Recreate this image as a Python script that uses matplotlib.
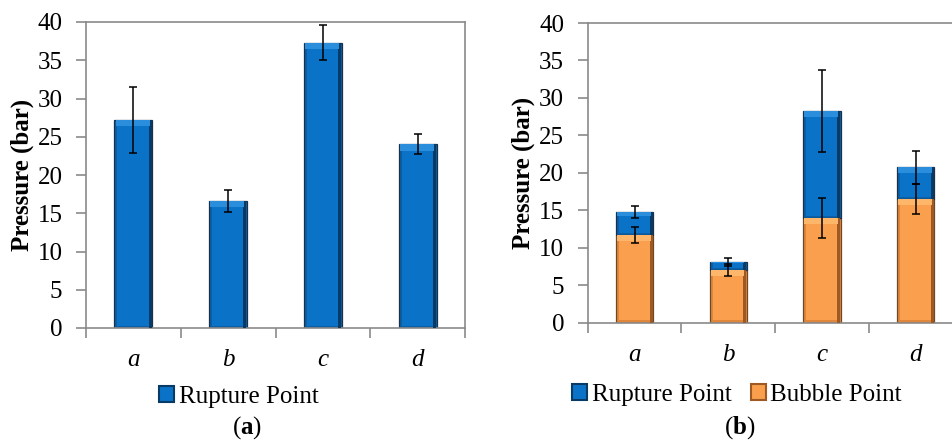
import matplotlib
matplotlib.use("Agg")
import matplotlib.pyplot as plt
from matplotlib.patches import Patch

plt.rcParams['font.family'] = ['Liberation Serif', 'DejaVu Serif']
plt.rcParams['mathtext.fontset'] = 'custom'
plt.rcParams['mathtext.rm'] = 'Liberation Serif'
plt.rcParams['mathtext.bf'] = 'Liberation Serif:bold'

categories = ['a', 'b', 'c', 'd']
# panel (a)
rupture_a = [27.2, 16.6, 37.3, 24.0]
rupture_a_err = [4.3, 1.5, 2.3, 1.3]
# panel (b)
bubble_b = [11.7, 7.0, 14.0, 16.5]
bubble_b_err = [1.1, 0.8, 2.7, 2.0]
rupture_b_total = [14.8, 8.15, 28.25, 20.75]
rupture_b_err = [0.8, 0.55, 5.5, 2.2]

yticks = [0, 5, 10, 15, 20, 25, 30, 35, 40]

BLUE = dict(main='#0A73C8', light='#2A8EDD', side='#0A5FA6', dark='#083A66', edge='#1E3048')
ORANGE = dict(main='#F99F4D', light='#FDB66A', side='#E0863A', dark='#9E5A22', edge='#6B4A2C')

W = 0.4
SPINE = '#8A8A8A'
FS = 18


def bevel_bars(ax, x, heights, bottoms, col):
    ax.bar(x, heights, W, bottom=bottoms, color=col['side'], edgecolor=col['edge'],
           linewidth=0.9, zorder=2)
    for xi, h, b in zip(x, heights, bottoms):
        cap = min(0.8, h * 0.2)
        # dark right edge
        ax.bar(xi + W * 0.44, h, W * 0.08, bottom=b, color=col['dark'], linewidth=0, zorder=3)
        # main body
        ax.bar(xi - W * 0.01, h - cap - 0.3, W * 0.82, bottom=b + 0.3, color=col['main'],
               linewidth=0, zorder=3)
        # light top bevel
        ax.bar(xi - W * 0.02, cap, W * 0.9, bottom=b + h - cap, color=col['light'],
               linewidth=0, zorder=3)


def style_axes(ax):
    ax.set_xlim(-0.5, 3.5)
    ax.set_ylim(0, 40)
    ax.set_yticks(yticks)
    ax.set_xticks(range(len(categories)))
    ax.set_xticklabels(categories, fontstyle='italic', fontsize=FS)
    ax.set_xticks([-0.5, 0.5, 1.5, 2.5, 3.5], minor=True)
    ax.tick_params(axis='x', which='major', length=0, pad=15)
    ax.tick_params(axis='x', which='minor', length=7, color=SPINE, width=1.2)
    ax.tick_params(axis='y', length=7, color=SPINE, width=1.2, labelsize=FS, pad=10)
    for s in ax.spines.values():
        s.set_color(SPINE)
        s.set_linewidth(1.2)
    ax.set_ylabel('Pressure (bar)', fontweight='bold', fontsize=FS)


fig = plt.figure(figsize=(9.52, 4.42), dpi=100, facecolor='white')

# ---- panel (a)
ax1 = fig.add_axes([86 / 952, 1 - 328 / 442, (465 - 86) / 952, (328 - 22) / 442])
x = list(range(len(categories)))
bevel_bars(ax1, x, rupture_a, [0] * 4, BLUE)
ax1.errorbar(x, rupture_a, yerr=rupture_a_err, fmt='none', ecolor='black',
             elinewidth=1.1, capsize=3, capthick=1.1, zorder=5)
style_axes(ax1)
ax1.yaxis.set_label_coords(-0.137, 0.5)

h_rup = Patch(facecolor=BLUE['main'], edgecolor=BLUE['dark'], linewidth=1.5)
h_bub = Patch(facecolor=ORANGE['main'], edgecolor=ORANGE['dark'], linewidth=1.5)

fig.legend([h_rup], ['Rupture Point'], loc='center',
           bbox_to_anchor=(239 / 952, 1 - 397 / 442), frameon=False, fontsize=FS,
           handlelength=0.6, handleheight=0.6, handletextpad=0.2, borderpad=0)
fig.text(247 / 952, 1 - 428 / 442, r'($\mathbf{a}$)', ha='center', va='center', fontsize=FS)

# ---- panel (b)
ax2 = fig.add_axes([587.7 / 952, 1 - 322.7 / 442, (962.5 - 587.7) / 952, (322.7 - 23) / 442])
rup_h = [t - b for t, b in zip(rupture_b_total, bubble_b)]
bevel_bars(ax2, x, bubble_b, [0] * 4, ORANGE)
bevel_bars(ax2, x, rup_h, bubble_b, BLUE)
ax2.errorbar(x, rupture_b_total, yerr=rupture_b_err, fmt='none', ecolor='black',
             elinewidth=1.1, capsize=3, capthick=1.1, zorder=5)
ax2.errorbar(x, bubble_b, yerr=bubble_b_err, fmt='none', ecolor='black',
             elinewidth=1.1, capsize=3, capthick=1.1, zorder=5)
style_axes(ax2)
ax2.yaxis.set_label_coords(-0.141, 0.5)

fig.legend([h_rup, h_bub], ['Rupture Point', 'Bubble Point'], loc='center',
           bbox_to_anchor=(737 / 952, 1 - 395 / 442), frameon=False, fontsize=FS, ncol=2,
           handlelength=0.6, handleheight=0.6, handletextpad=0.2, columnspacing=0.75,
           borderpad=0)
fig.text(740 / 952, 1 - 428 / 442, r'($\mathbf{b}$)', ha='center', va='center', fontsize=FS)

fig.savefig('out.png', dpi=100, facecolor='white')
